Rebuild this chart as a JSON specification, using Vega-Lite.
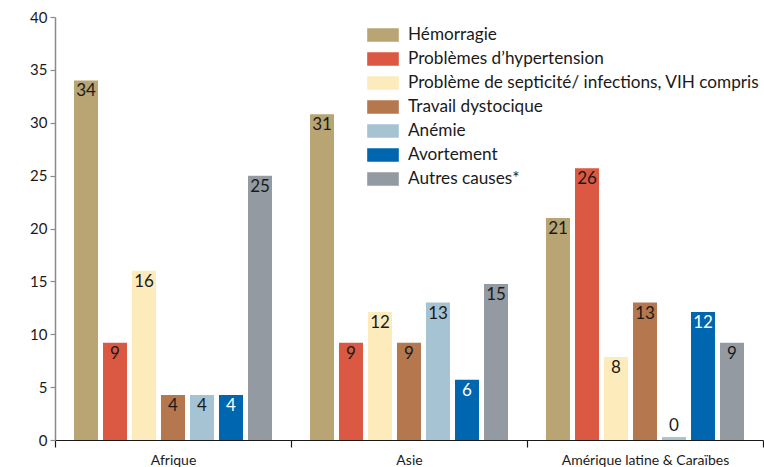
{
  "$schema": "https://vega.github.io/schema/vega-lite/v6.json",
  "width": 708,
  "height": 423,
  "autosize": {"type": "none"},
  "padding": {"left": 55, "top": 17, "right": 1, "bottom": 27},
  "background": "white",
  "config": {
    "view": {"stroke": null},
    "font": "Lato"
  },
  "data": {
    "values": [
      {"region": "Afrique", "cause": "Hémorragie", "value": 34.0, "label": 34},
      {"region": "Afrique", "cause": "Problèmes d’hypertension", "value": 9.2, "label": 9},
      {"region": "Afrique", "cause": "Problème de septicité/ infections, VIH compris", "value": 16.0, "label": 16},
      {"region": "Afrique", "cause": "Travail dystocique", "value": 4.25, "label": 4},
      {"region": "Afrique", "cause": "Anémie", "value": 4.25, "label": 4},
      {"region": "Afrique", "cause": "Avortement", "value": 4.25, "label": 4},
      {"region": "Afrique", "cause": "Autres causes*", "value": 25.0, "label": 25},
      {"region": "Asie", "cause": "Hémorragie", "value": 30.8, "label": 31},
      {"region": "Asie", "cause": "Problèmes d’hypertension", "value": 9.2, "label": 9},
      {"region": "Asie", "cause": "Problème de septicité/ infections, VIH compris", "value": 12.1, "label": 12},
      {"region": "Asie", "cause": "Travail dystocique", "value": 9.2, "label": 9},
      {"region": "Asie", "cause": "Anémie", "value": 13.0, "label": 13},
      {"region": "Asie", "cause": "Avortement", "value": 5.7, "label": 6},
      {"region": "Asie", "cause": "Autres causes*", "value": 14.75, "label": 15},
      {"region": "Amérique latine & Caraïbes", "cause": "Hémorragie", "value": 21.0, "label": 21},
      {"region": "Amérique latine & Caraïbes", "cause": "Problèmes d’hypertension", "value": 25.7, "label": 26},
      {"region": "Amérique latine & Caraïbes", "cause": "Problème de septicité/ infections, VIH compris", "value": 7.85, "label": 8},
      {"region": "Amérique latine & Caraïbes", "cause": "Travail dystocique", "value": 13.0, "label": 13},
      {"region": "Amérique latine & Caraïbes", "cause": "Anémie", "value": 0.28, "label": 0},
      {"region": "Amérique latine & Caraïbes", "cause": "Avortement", "value": 12.1, "label": 12},
      {"region": "Amérique latine & Caraïbes", "cause": "Autres causes*", "value": 9.2, "label": 9}
    ]
  },
  "encoding": {
    "x": {
      "field": "region", "type": "nominal", "sort": null,
      "scale": {"paddingInner": 0, "paddingOuter": 0},
      "axis": {
        "title": null, "labelAngle": 0, "tickBand": "extent",
        "domainColor": "#1a1a1a", "domainWidth": 1.2,
        "tickColor": "#1a1a1a", "tickSize": 7, "tickWidth": 1.2,
        "labelFontSize": 14, "labelColor": "#1a1a1a", "labelPadding": 6
      }
    },
    "xOffset": {
      "field": "cause", "type": "nominal", "sort": null,
      "scale": {"paddingInner": 0.172, "paddingOuter": 0.655}
    },
    "y": {
      "field": "value", "type": "quantitative",
      "scale": {"domain": [0, 40], "nice": false},
      "axis": {
        "title": null, "values": [0, 5, 10, 15, 20, 25, 30, 35, 40],
        "grid": false, "domainColor": "#8a8a8a", "domainWidth": 1.5,
        "tickColor": "#8a8a8a", "tickSize": 5, "tickWidth": 1.2,
        "labelFontSize": 15, "labelColor": "#1a1a1a", "labelPadding": 3
      }
    }
  },
  "layer": [
    {
      "mark": {"type": "bar"},
      "encoding": {
        "color": {
          "field": "cause", "type": "nominal", "sort": null,
          "scale": {
            "domain": ["Hémorragie", "Problèmes d’hypertension", "Problème de septicité/ infections, VIH compris", "Travail dystocique", "Anémie", "Avortement", "Autres causes*"],
            "range": ["#B9A474", "#DB5842", "#FDEBBC", "#B5784E", "#A6C3D4", "#0066B0", "#939AA1"]
          },
          "legend": {
            "title": null, "orient": "none", "legendX": 312, "legendY": 6,
            "symbolType": "M-1,-0.43H1V0.43H-1Z", "symbolSize": 1000,
            "symbolStrokeWidth": 0, "symbolOpacity": 1,
            "labelFontSize": 17.2, "labelColor": "#1a1a1a", "labelOffset": 9,
            "rowPadding": 0, "clipHeight": 24, "labelLimit": 400, "padding": 0
          }
        }
      }
    },
    {
      "transform": [{"filter": "datum.label > 0"}],
      "mark": {"type": "text", "baseline": "top", "dy": 3, "fontSize": 17},
      "encoding": {
        "text": {"field": "label", "type": "quantitative"},
        "color": {"condition": {"test": "datum.cause == 'Avortement'", "value": "white"}, "value": "#1a1a1a"}
      }
    },
    {
      "transform": [{"filter": "datum.label == 0"}],
      "mark": {"type": "text", "baseline": "bottom", "dy": -2, "fontSize": 17, "color": "#1a1a1a"},
      "encoding": {
        "text": {"field": "label", "type": "quantitative"}
      }
    }
  ]
}
